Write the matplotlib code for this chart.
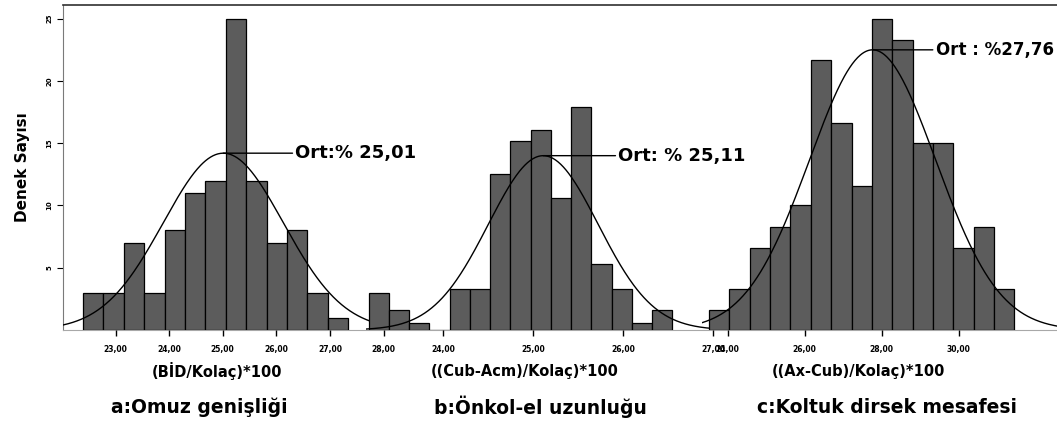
import numpy as np
import matplotlib
matplotlib.use("Agg")
import matplotlib.pyplot as plt

# --- data ---
# a: Omuz genisligi
a_start, a_width = 22.39, 0.381
a_counts = [3, 3, 7, 3, 8, 11, 12, 25, 12, 7, 8, 3, 1]
a_mean, a_sd, a_peak = 25.01, 1.12, 14.2
a_ticks = [23, 24, 25, 26, 27, 28]

# b: Onkol-el uzunlugu
b_start, b_width = 23.17, 0.225
b_counts = [3.0, 1.6, 0.6, 0, 3.3, 3.3, 12.5, 15.2, 16.1, 10.6, 17.9, 5.3, 3.3, 0.6, 1.6]
b_mean, b_sd, b_peak = 25.11, 0.61, 14.0
b_ticks = [24, 25, 26, 27]

# c: Koltuk dirsek mesafesi
c_start, c_width = 23.51, 0.529
c_counts = [1.6, 3.3, 6.6, 8.3, 10.0, 21.7, 16.6, 11.6, 25.0, 23.3, 15.0, 15.0, 6.6, 8.3, 3.3]
c_mean, c_sd, c_peak = 27.76, 1.64, 22.5
c_ticks = [24, 26, 28, 30]

y_ticks = [5, 10, 15, 20, 25]
xlabels = ["(BİD/Kolaç)*100", "((Cub-Acm)/Kolaç)*100", "((Ax-Cub)/Kolaç)*100"]
titles = ["a:Omuz genişliği", "b:Önkol-el uzunluğu", "c:Koltuk dirsek mesafesi"]
ort_texts = ["Ort:% 25,01", "Ort: % 25,11", "Ort : %27,76"]

W, H = 1057, 423
plt.rcParams['font.family'] = ['DejaVu Sans']

fig = plt.figure(figsize=(W / 100, H / 100), dpi=100)

def fx(px):
    return px / W

def fy(py):
    return 1 - py / H

top_px, base_px = 5, 330
ymax = 26.1
bottom = fy(base_px)
height = (base_px - top_px) / H

# frame with the y axis
frame = fig.add_axes([fx(63), bottom, 1 - fx(63), height])
frame.set_ylim(0, ymax)
frame.set_xticks([])
frame.set_yticks(y_ticks)
frame.set_yticklabels([str(t) for t in y_ticks], rotation=90, fontsize=5,
                      fontweight='bold', va='center')
frame.tick_params(axis='y', length=4.5, width=0.8, pad=3)
frame.spines['right'].set_visible(False)
frame.spines['left'].set_color('#7a7a7a')
frame.spines['bottom'].set_color('#a8a8a8')
frame.spines['top'].set_color('#303030')
frame.spines['top'].set_linewidth(1.2)
frame.set_ylabel("Denek Sayısı", fontsize=11, fontweight='bold', labelpad=12)

panels = [
    (a_start, a_width, a_counts, a_mean, a_sd, a_peak, a_ticks, (22.02, 28.12), (63, 390), 72, 13),
    (b_start, b_width, b_counts, b_mean, b_sd, b_peak, b_ticks, (23.14, 27.03), (366, 716), 75, 13),
    (c_start, c_width, c_counts, c_mean, c_sd, c_peak, c_ticks, (23.33, 32.55), (702, 1057), 63, 12),
]

for i, (start, width, counts, mean, sd, peak, ticks, xlim, span, off, fs) in enumerate(panels):
    ax = fig.add_axes([fx(span[0]), bottom, fx(span[1] - span[0]), height])
    ax.patch.set_alpha(0)
    for s in ax.spines.values():
        s.set_visible(False)
    ax.set_xlim(*xlim)
    ax.set_ylim(0, ymax)
    ax.set_yticks([])

    lefts = start + width * np.arange(len(counts))
    ax.bar(lefts, counts, width=width, align='edge', color='#5c5c5c',
           edgecolor='black', linewidth=0.9)

    xs = np.linspace(xlim[0], xlim[1], 400)
    ax.plot(xs, peak * np.exp(-0.5 * ((xs - mean) / sd) ** 2), color='black', lw=1.0)

    ax.annotate(ort_texts[i], xy=(mean, peak), xytext=(off, 0), textcoords='offset pixels',
                ha='left', va='center', fontsize=fs, fontweight='bold',
                arrowprops=dict(arrowstyle='-', lw=1.0, color='black', shrinkA=0, shrinkB=0))

    ax.set_xticks(ticks)
    ax.set_xticklabels([f"{t},00" for t in ticks], fontsize=5.5, fontweight='bold')
    ax.tick_params(axis='x', length=4, width=1, pad=7)

xlabel_pos = [217, 525, 858]
title_pos = [199, 540, 887]
for i in range(3):
    fig.text(fx(xlabel_pos[i]), fy(371), xlabels[i], ha='center', va='center',
             fontsize=10.5, fontweight='bold')
    fig.text(fx(title_pos[i]), fy(407), titles[i], ha='center', va='center',
             fontsize=13.5, fontweight='bold')

fig.savefig("out.png", dpi=100, facecolor='white')
